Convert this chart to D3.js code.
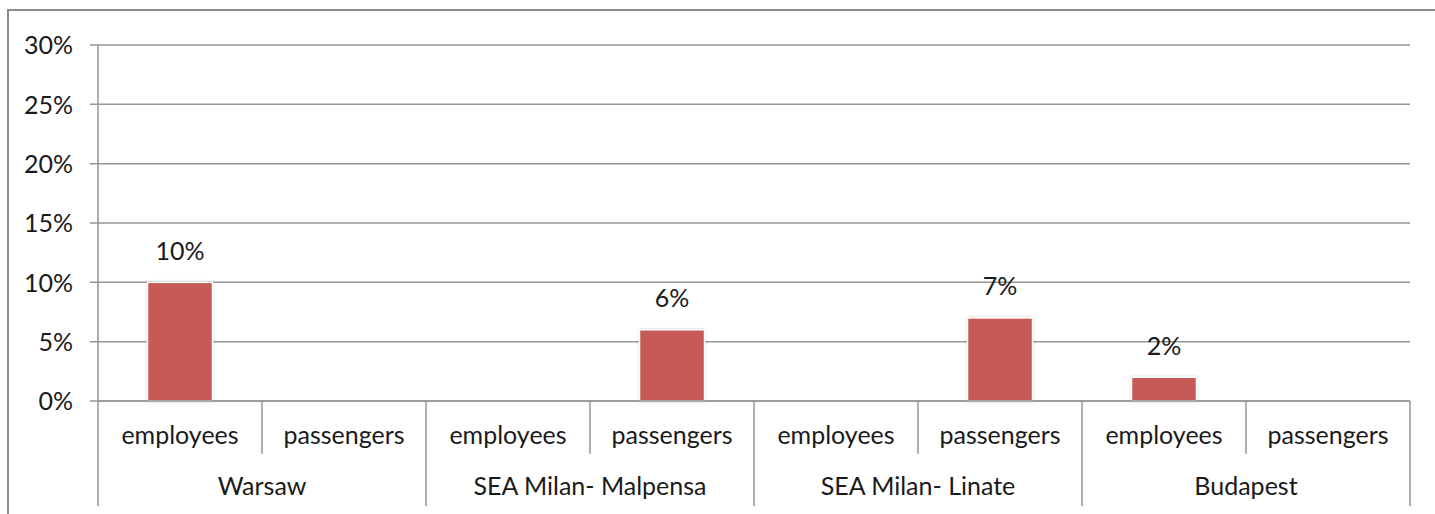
<!DOCTYPE html>
<html>
<head>
<meta charset="utf-8">
<script src="https://cdn.jsdelivr.net/npm/d3@7"></script>
<style>
  html, body { margin: 0; padding: 0; background: #fff; }
  svg { display: block; font-family: Lato, "Open Sans", sans-serif; }
</style>
</head>
<body>
<svg id="chart" width="1435" height="514"></svg>
<script>
const groups = ["Warsaw", "SEA Milan- Malpensa", "SEA Milan- Linate", "Budapest"];
const subcats = ["employees", "passengers"];
const employees = [10, null, null, 2];
const passengers = [null, 6, 7, null];
const yTicks = [0, 5, 10, 15, 20, 25, 30];

const svg = d3.select("#chart");
const plotL = 98, plotR = 1410, plotT = 45, plotB = 401;
const FS = 25;
const TXT = "#1a1a1a";

// outer frame
svg.append("path")
  .attr("d", `M8,514 L8,10 L1435,10`)
  .attr("fill", "none").attr("stroke", "#8c8c8c").attr("stroke-width", 2);

const rows = [];
groups.forEach((g, i) => {
  rows.push({ group: g, sub: subcats[0], key: g + "|" + subcats[0], value: employees[i] });
  rows.push({ group: g, sub: subcats[1], key: g + "|" + subcats[1], value: passengers[i] });
});

const x = d3.scaleBand().domain(rows.map(d => d.key)).range([plotL, plotR]).paddingInner(0).paddingOuter(0);
const xg = d3.scaleBand().domain(groups).range([plotL, plotR]);
const y = d3.scaleLinear().domain([0, 30]).range([plotB, plotT]);

// gridlines
svg.append("g").selectAll("line").data(yTicks).join("line")
  .attr("x1", plotL - 8).attr("x2", plotR)
  .attr("y1", d => y(d)).attr("y2", d => y(d))
  .attr("stroke", "#969696").attr("stroke-width", 1.5);

// y axis labels
svg.append("g").selectAll("text").data(yTicks).join("text")
  .attr("x", 73).attr("y", d => y(d) + 3)
  .attr("text-anchor", "end").attr("dominant-baseline", "middle")
  .attr("font-size", FS).attr("fill", TXT)
  .text(d => d + "%");

// y axis line
svg.append("line").attr("x1", plotL).attr("x2", plotL).attr("y1", plotT).attr("y2", plotB)
  .attr("stroke", "#969696").attr("stroke-width", 1.5);

// shadow filter
const defs = svg.append("defs");
const f = defs.append("filter").attr("id", "sh").attr("x", "-20%").attr("y", "-20%").attr("width", "140%").attr("height", "140%");
f.append("feDropShadow").attr("dx", 0).attr("dy", 0).attr("stdDeviation", 1.2).attr("flood-color", "#000").attr("flood-opacity", 0.25);

// bars
const barW = 65;
const data = rows.filter(d => d.value != null);
svg.append("g").selectAll("rect").data(data).join("rect")
  .attr("x", d => x(d.key) + x.bandwidth() / 2 - barW / 2)
  .attr("width", barW)
  .attr("y", d => y(d.value))
  .attr("height", d => y(0) - y(d.value))
  .attr("fill", "#c55a56")
  .attr("stroke", "#fff").attr("stroke-width", 1.5)
  .attr("filter", "url(#sh)");

// value labels
svg.append("g").selectAll("text").data(data).join("text")
  .attr("x", d => x(d.key) + x.bandwidth() / 2)
  .attr("y", d => y(d.value) - 29)
  .attr("text-anchor", "middle").attr("dominant-baseline", "middle")
  .attr("font-size", FS).attr("fill", TXT)
  .text(d => d.value + "%");

// x axis baseline
svg.append("line").attr("x1", plotL).attr("x2", plotR).attr("y1", plotB).attr("y2", plotB)
  .attr("stroke", "#969696").attr("stroke-width", 1.5);

// subcategory separators
const subSeps = groups.map(g => x(g + "|" + subcats[1]));
svg.append("g").selectAll("line").data(subSeps).join("line")
  .attr("x1", d => d).attr("x2", d => d).attr("y1", plotB).attr("y2", 454)
  .attr("stroke", "#969696").attr("stroke-width", 1.5);

// group separators
const groupSeps = groups.map(g => xg(g)).concat([plotR]);
svg.append("g").selectAll("line").data(groupSeps).join("line")
  .attr("x1", d => d).attr("x2", d => d).attr("y1", plotB).attr("y2", 506)
  .attr("stroke", "#969696").attr("stroke-width", 1.5);

// subcategory labels
svg.append("g").selectAll("text").data(rows).join("text")
  .attr("x", d => x(d.key) + x.bandwidth() / 2)
  .attr("y", 438)
  .attr("text-anchor", "middle").attr("dominant-baseline", "middle")
  .attr("font-size", FS).attr("fill", TXT)
  .text(d => d.sub);

// group labels
svg.append("g").selectAll("text").data(groups).join("text")
  .attr("x", d => xg(d) + xg.bandwidth() / 2)
  .attr("y", 489)
  .attr("text-anchor", "middle").attr("dominant-baseline", "middle")
  .attr("font-size", FS).attr("fill", TXT)
  .text(d => d);
</script>
</body>
</html>
